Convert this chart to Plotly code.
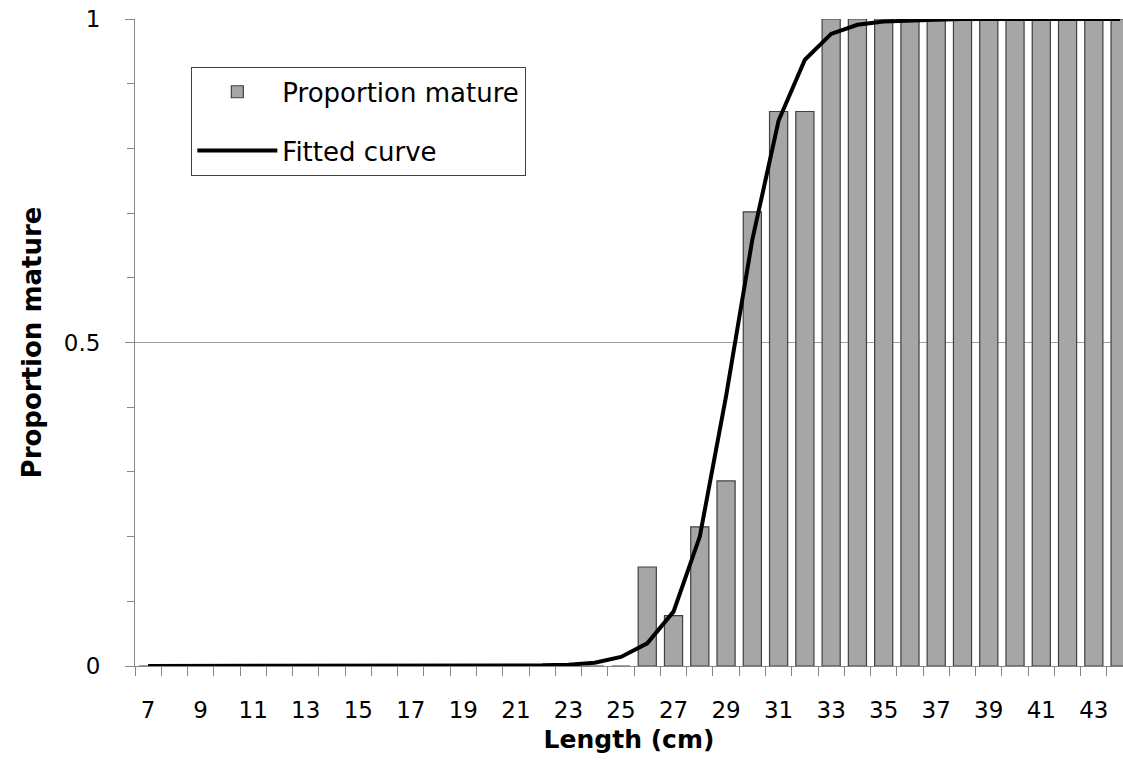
import plotly.graph_objects as go

lengths = list(range(7, 45))
proportion_mature = [0]*19 + [0.153, 0.078, 0.215, 0.286, 0.702, 0.857, 0.857] + [1]*12
fitted_curve = [0]*15 + [0.001, 0.002, 0.005, 0.014, 0.035, 0.084, 0.200, 0.417, 0.659,
                         0.843, 0.937, 0.977, 0.991, 0.996, 0.998, 0.999, 1, 1, 1, 1, 1, 1, 1]

FONT = "DejaVu Sans"
AX = "#868686"

fig = go.Figure()
fig.add_trace(go.Bar(
    x=lengths, y=proportion_mature, name="Proportion mature", width=0.69,
    marker=dict(color="#a6a6a6", line=dict(color="#404040", width=1.2)),
    legendgroup="a"))
fig.add_trace(go.Scatter(
    x=lengths, y=fitted_curve, name="Fitted curve", mode="lines",
    line=dict(color="black", width=4), legendgroup="b"))

fig.update_layout(
    width=1123, height=763,
    margin=dict(l=135, r=0, t=19, b=97),
    plot_bgcolor="white", paper_bgcolor="white",
    font=dict(family=FONT, size=23, color="black"),
    showlegend=True,
    legend=dict(x=0.0567, y=0.9257, xanchor="left", yanchor="top",
                bordercolor="#404040", borderwidth=1.3, bgcolor="white",
                font=dict(size=26), tracegroupgap=22, traceorder="grouped",
                itemwidth=80),
    xaxis=dict(range=[6.5, 44.11], tickmode="linear", tick0=7, dtick=2,
               ticks="", showgrid=False, zeroline=False,
               showline=True, linecolor=AX, linewidth=1,
               ticklabelstandoff=23,
               minor=dict(tickmode="linear", tick0=6.5, dtick=1, ticks="outside",
                          ticklen=9, tickcolor=AX, showgrid=False),
               title=dict(text="<b>Length (cm)</b>", font=dict(size=25), standoff=8)),
    yaxis=dict(range=[0, 1], tickmode="array", tickvals=[0, 0.5, 1], ticktext=["0", "0.5", "1"],
               ticks="outside", ticklen=9, tickcolor=AX,
               showgrid=True, gridcolor="#a0a0a0", gridwidth=1, zeroline=False,
               showline=True, linecolor=AX, linewidth=1,
               ticklabelstandoff=20,
               minor=dict(tickmode="linear", tick0=0, dtick=0.1, ticks="outside",
                          ticklen=7, tickcolor=AX, showgrid=False),
               title=dict(text="<b>Proportion mature</b>", font=dict(size=26), standoff=14)),
)

fig.write_html("out.html")
